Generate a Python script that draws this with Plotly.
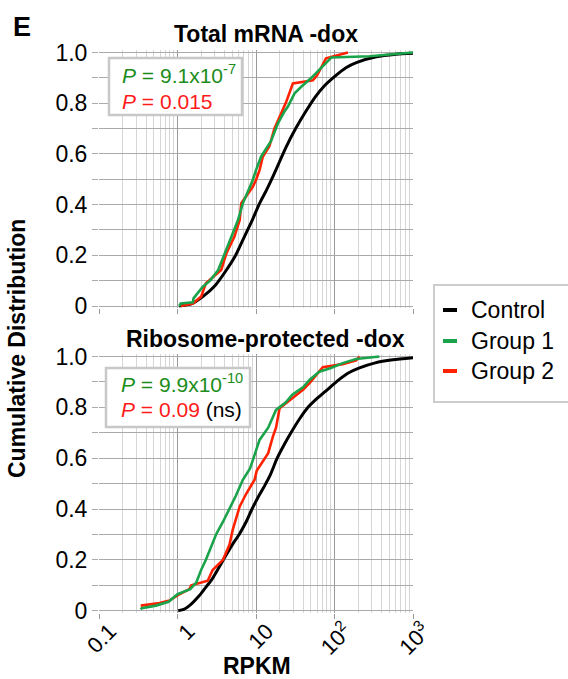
import plotly.graph_objects as go

W, H = 568, 679

# ---------------- data (RPKM, cumulative fraction) ----------------
top_control_x = [1.05, 1.5, 2.1, 3.0, 4.2, 5.5, 7.1, 9.0, 11.1, 13.5, 16.4, 20.0, 24.0, 32.0, 43.6, 57, 74, 100, 140, 190, 340, 612, 1000]
top_control_y = [0.0, 0.008, 0.037, 0.08, 0.142, 0.2, 0.273, 0.34, 0.405, 0.455, 0.51, 0.57, 0.625, 0.7, 0.77, 0.825, 0.868, 0.905, 0.94, 0.96, 0.983, 0.993, 0.997]

top_g1_x = [1.05, 1.1, 1.57, 1.6, 2.1, 2.6, 3.3, 4.0, 4.8, 5.9, 6.8, 8.3, 9.1, 10.0, 11.6, 15.5, 19.0, 23.0, 25.4, 31.0, 37.7, 50, 74, 91, 280, 612, 1000]
top_g1_y = [0.0, 0.01, 0.015, 0.03, 0.076, 0.1, 0.142, 0.208, 0.273, 0.339, 0.405, 0.47, 0.497, 0.536, 0.589, 0.65, 0.72, 0.767, 0.786, 0.839, 0.865, 0.898, 0.951, 0.98, 0.985, 0.995, 1.0]

top_g2_x = [1.1, 1.57, 2.0, 2.3, 3.6, 4.2, 5.3, 6.2, 6.5, 9.1, 10.0, 11.1, 12.2, 14.8, 17.2, 21.0, 24.3, 29.5, 53, 60, 78, 148]
top_g2_y = [0.0, 0.01, 0.037, 0.09, 0.142, 0.208, 0.273, 0.339, 0.405, 0.47, 0.497, 0.536, 0.589, 0.63, 0.7, 0.765, 0.806, 0.878, 0.89, 0.91, 0.977, 1.0]

bot_control_x = [1.02, 1.2, 1.42, 1.9, 2.2, 2.7, 3.3, 4.0, 5.0, 6.1, 7.5, 8.9, 10.8, 12.8, 15.0, 18.6, 23.0, 28.5, 36.0, 46.0, 60.0, 78.0, 110.0, 150.0, 208.0, 330.0, 555.0, 1000.0]
bot_control_y = [0.0, 0.005, 0.02, 0.06, 0.085, 0.12, 0.165, 0.21, 0.26, 0.3, 0.35, 0.4, 0.45, 0.49, 0.53, 0.6, 0.655, 0.705, 0.755, 0.8, 0.835, 0.865, 0.905, 0.935, 0.955, 0.975, 0.987, 0.995]

bot_g1_x = [0.34, 0.35, 0.53, 0.77, 1.0, 1.45, 1.73, 2.0, 2.3, 2.9, 3.1, 3.8, 4.8, 5.5, 6.8, 8.4, 9.3, 11.1, 14.3, 18.0, 24.0, 29.0, 40.0, 48.0, 64.0, 90.0, 127.0, 189.0, 373.0]
bot_g1_y = [0.005, 0.01, 0.02, 0.035, 0.065, 0.085, 0.11, 0.16, 0.2, 0.28, 0.3, 0.35, 0.41, 0.45, 0.515, 0.56, 0.6, 0.672, 0.72, 0.79, 0.82, 0.85, 0.88, 0.908, 0.94, 0.955, 0.974, 0.99, 1.0]

bot_g2_x = [0.34, 0.59, 0.79, 1.0, 1.42, 1.5, 2.43, 2.8, 3.8, 4.6, 5.07, 6.2, 7.5, 9.6, 10.2, 11.1, 14.3, 16.4, 18.0, 20.0, 29.0, 40.0, 48.0, 58.5, 71.0, 127.0, 189.0, 208.0]
bot_g2_y = [0.02, 0.03, 0.04, 0.06, 0.085, 0.1, 0.118, 0.16, 0.2, 0.26, 0.32, 0.41, 0.46, 0.515, 0.55, 0.567, 0.62, 0.685, 0.72, 0.797, 0.836, 0.87, 0.895, 0.928, 0.958, 0.97, 0.985, 1.0]

x_tickvals = [0.1, 1, 10, 100, 1000]
x_ticktext = ["0.1", "1", "10", "10<sup>2</sup>", "10<sup>3</sup>"]
x_minorvals = [m * d for d in [0.1, 1, 10, 100] for m in range(2, 10)]
y_tickvals = [0, 0.2, 0.4, 0.6, 0.8, 1.0]
y_ticktext = ["0", "0.2", "0.4", "0.6", "0.8", "1.0"]
y_minorvals = [0.1, 0.3, 0.5, 0.7, 0.9]

series_names = ["Control", "Group 1", "Group 2"]
line_colors = ["#000000", "#1aa34a", "#ff2200"]
text_green = "#1b8c1b"
text_red = "#ff1a1a"

FONT = "Liberation Sans, Arial, Helvetica, sans-serif"

def px(x):
    return x / W

def py(y):
    return 1 - y / H

# plot-area pixel geometry
X0, X1 = 99, 413
TOP_Y1, TOP_Y0 = 52.5, 306
BOT_Y1, BOT_Y0 = 356.5, 610.7
PAD = 0.008
YR = [-PAD, 1 + PAD]

def ydom(ptop, pbot):
    h = pbot - ptop
    return [py(pbot + PAD * h), py(ptop - PAD * h)]

fig = go.Figure()

panels = [
    ("x", "y", [top_control_x, top_g1_x, top_g2_x], [top_control_y, top_g1_y, top_g2_y]),
    ("x2", "y2", [bot_control_x, bot_g1_x, bot_g2_x], [bot_control_y, bot_g1_y, bot_g2_y]),
]
for xa, ya, xs, ys in panels:
    for i in [0, 2, 1]:
        if i == 0:
            ln = dict(color=line_colors[i], width=3, shape="spline", smoothing=0.6)
        else:
            ln = dict(color=line_colors[i], width=2.6)
        fig.add_trace(go.Scatter(
            x=xs[i], y=ys[i], mode="lines", name=series_names[i], line=ln,
            xaxis=xa, yaxis=ya, showlegend=False, hoverinfo="skip",
        ))

def xaxis_cfg(anchor, labels):
    return dict(
        type="log", range=[-1, 3], domain=[px(X0), px(X1)], anchor=anchor,
        automargin=False,
        tickmode="array", tickvals=x_tickvals, ticktext=x_ticktext,
        showticklabels=labels, tickangle=-45,
        tickfont=dict(family=FONT, size=22, color="black"),
        ticks="outside", ticklen=5, tickcolor="#999999", tickwidth=1,
        showgrid=True, gridcolor="#9a9a9a", gridwidth=1,
        minor=dict(tickmode="array", tickvals=x_minorvals, showgrid=True,
                   gridcolor="#d6d6d6", gridwidth=1, ticks=""),
        zeroline=False, showline=False, fixedrange=True,
        ticklabelshift=11, ticklabelstandoff=-9,
    )

def yaxis_cfg(anchor, dom):
    return dict(
        range=YR, domain=dom, anchor=anchor, automargin=False,
        tickmode="array", tickvals=y_tickvals, ticktext=y_ticktext,
        tickfont=dict(family=FONT, size=23, color="black"),
        ticks="outside", ticklen=6, tickcolor="#aaaaaa", tickwidth=1,
        showgrid=True, gridcolor="#aaaaaa", gridwidth=1,
        minor=dict(tickmode="array", tickvals=y_minorvals, showgrid=True,
                   gridcolor="#aaaaaa", gridwidth=1, ticks="outside",
                   ticklen=6, tickcolor="#aaaaaa"),
        zeroline=False, showline=False, fixedrange=True,
    )

fig.update_layout(
    width=W, height=H, margin=dict(l=0, r=0, t=0, b=0, autoexpand=False),
    paper_bgcolor="white", plot_bgcolor="white",
    font=dict(family=FONT, color="black"),
    xaxis=xaxis_cfg("y", False),
    yaxis=yaxis_cfg("x", ydom(TOP_Y1, TOP_Y0)),
    xaxis2=xaxis_cfg("y2", True),
    yaxis2=yaxis_cfg("x2", ydom(BOT_Y1, BOT_Y0)),
    showlegend=False,
)

ann = []
shapes = []

def text(x, y, s, size, bold=False, xanchor="center", color="black", angle=0):
    ann.append(dict(
        x=px(x), y=py(y), xref="paper", yref="paper", text=("<b>%s</b>" % s) if bold else s,
        showarrow=False, xanchor=xanchor, yanchor="middle", textangle=angle,
        font=dict(family=FONT, size=size, color=color),
    ))

# titles and labels
text(22, 27, "E", 27, bold=True)
text(266, 34, "Total mRNA -dox", 23, bold=True)
text(265, 339, "Ribosome-protected -dox", 23, bold=True)
text(257, 666, "RPKM", 23, bold=True)
text(17, 349, "Cumulative Distribution", 23, bold=True, angle=-90)

# P-value boxes
for (bx0, by0, bx1, by1) in [(109, 58, 242, 115), (106, 368, 250, 427)]:
    shapes.append(dict(type="rect", xref="paper", yref="paper",
                       x0=px(bx0), x1=px(bx1), y0=py(by1), y1=py(by0),
                       line=dict(color="#c8c8c8", width=2.5), fillcolor="white", layer="above"))

text(120, 74, "<i>P</i> = 9.1x10<sup>-7</sup>", 21, xanchor="left", color=text_green)
text(120, 101, "<i>P</i> = 0.015", 21, xanchor="left", color=text_red)
text(119, 383, "<i>P</i> = 9.9x10<sup>-10</sup>", 21, xanchor="left", color=text_green)
text(119, 409, "<span style='color:%s'><i>P</i> = 0.09</span> (ns)" % text_red, 21, xanchor="left")

# custom legend
shapes.append(dict(type="rect", xref="paper", yref="paper",
                   x0=px(434), x1=px(572), y0=py(402), y1=py(285),
                   line=dict(color="#cccccc", width=2), fillcolor="white"))
for i, yy in enumerate([310, 341, 371]):
    shapes.append(dict(type="line", xref="paper", yref="paper",
                       x0=px(443), x1=px(457), y0=py(yy), y1=py(yy),
                       line=dict(color=line_colors[i], width=4)))
    text(469, yy, series_names[i], 23, xanchor="left")

fig.update_layout(annotations=ann, shapes=shapes)
fig.write_html("out.html", config={"displayModeBar": False},
               post_script="document.body.style.margin='0';document.body.style.overflow='hidden';")
